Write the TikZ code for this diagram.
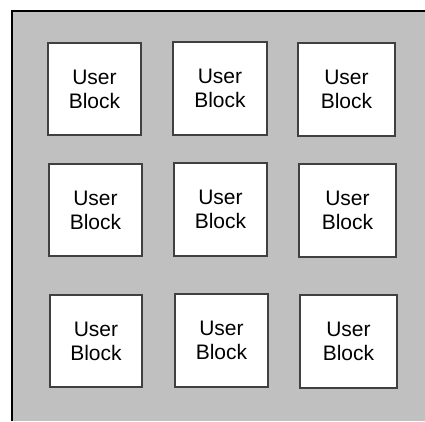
\documentclass[tikz,border=0pt]{standalone}
\usepackage{fontspec}
\setmainfont{Liberation Sans}
\definecolor{bggray}{HTML}{C0C0C0}
\definecolor{boxedge}{HTML}{404040}
\begin{document}
\begin{tikzpicture}[x=1pt,y=-1pt,
  ublock/.style={draw=boxedge, line width=1.1pt, fill=white, rectangle, inner sep=0pt,
    align=center, font=\fontsize{21}{24}\selectfont},
  frameline/.style={draw=black, line width=2.6pt}]
\useasboundingbox (0,0) rectangle (425,421);
\fill[bggray] (12,11) rectangle (425,421);
\coordinate (tl) at (12,11);
\coordinate (tr) at (425,11);
\coordinate (bl) at (12,421);
\draw[frameline] (bl) -- (tl) -- (tr);
\node[ublock, minimum width=93pt, minimum height=92pt] (b1) at (94.5,89) {User\\Block};
\node[ublock, minimum width=94pt, minimum height=93pt] (b2) at (220,88.5) {User\\Block};
\node[ublock, minimum width=97pt, minimum height=93pt] (b3) at (346.5,89.5) {User\\Block};
\node[ublock, minimum width=93pt, minimum height=92pt] (b4) at (95.5,210) {User\\Block};
\node[ublock, minimum width=93pt, minimum height=93pt] (b5) at (220.5,209.5) {User\\Block};
\node[ublock, minimum width=97pt, minimum height=93pt] (b6) at (347.5,210.5) {User\\Block};
\node[ublock, minimum width=92pt, minimum height=92pt] (b7) at (96,341) {User\\Block};
\node[ublock, minimum width=93pt, minimum height=93pt] (b8) at (221.5,340.5) {User\\Block};
\node[ublock, minimum width=97pt, minimum height=93pt] (b9) at (348.5,341.5) {User\\Block};
\end{tikzpicture}
\end{document}
